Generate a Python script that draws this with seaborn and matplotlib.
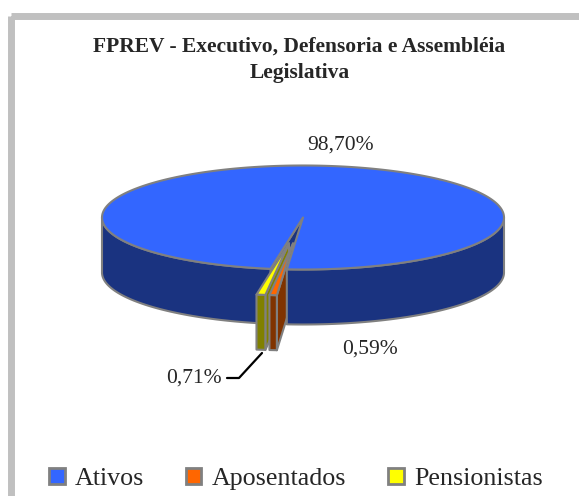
import numpy as np
import matplotlib
matplotlib.use("Agg")
import matplotlib.pyplot as plt
from matplotlib.patches import Polygon, Patch, Rectangle
import seaborn as sns

# data
categories = ["Ativos", "Aposentados", "Pensionistas"]
shares = [98.70, 0.59, 0.71]
labels = ["98,70%", "0,59%", "0,71%"]
explode = [0.0, 0.5, 0.5]
top_colors = ["#3366FF", "#FF6600", "#FFFF00"]
side_colors = ["#1A3380", "#803300", "#808000"]
title = "FPREV - Executivo, Defensoria e Assembléia\nLegislativa"

sns.set_theme(style="white")
plt.rcParams["font.family"] = ["Liberation Serif", "DejaVu Serif"]

W, H = 579, 496
fig = plt.figure(figsize=(W / 100, H / 100), dpi=100)
ax = fig.add_axes([0, 0, 1, 1])
ax.set_xlim(0, W)
ax.set_ylim(H, 0)
ax.axis("off")

# pie geometry (pixels)
cx, cy, rx, ry, depth = 303, 217.5, 201, 52, 55
start = 189.3
edge = "#808080"

frac = np.array(shares) / np.sum(shares)
ends = start + np.cumsum(frac) * 360
starts = ends - frac * 360
mids = (starts + ends) / 2


def offset(i):
    t = np.radians(mids[i])
    return explode[i] * rx * np.sin(t), -explode[i] * ry * np.cos(t)


def pt(i, th, r=1.0, z=0.0):
    ox, oy = offset(i)
    t = np.radians(th)
    return cx + ox + r * rx * np.sin(t), cy + oy - r * ry * np.cos(t) + z


def arc(i, a, b, z=0.0):
    th = np.linspace(a, b, max(int(abs(b - a) * 2), 2))
    ox, oy = offset(i)
    t = np.radians(th)
    return np.column_stack([cx + ox + rx * np.sin(t), cy + oy - ry * np.cos(t) + z])


def draw(poly, color):
    ax.add_patch(Polygon(poly, closed=True, facecolor=color, edgecolor=edge,
                         lw=1.5, joinstyle="round"))


def top(i):
    draw(np.vstack([[pt(i, 0, 0)], arc(i, starts[i], ends[i])]), top_colors[i])


def wall(i, th):
    draw(np.array([pt(i, th, 0), pt(i, th), pt(i, th, 1, depth), pt(i, th, 0, depth)]),
         side_colors[i])


def side(i, a, b):
    draw(np.vstack([arc(i, a, b), arc(i, a, b, depth)[::-1]]), side_colors[i])


def front_ranges(i):
    out = []
    for k in (-1, 0, 1):
        a, b = max(starts[i], 90 + 360 * k), min(ends[i], 270 + 360 * k)
        if b > a:
            out.append((a, b))
    return out


def visible_walls(i):
    w = []
    if np.sin(np.radians(starts[i])) < 0:
        w.append(starts[i])
    if np.sin(np.radians(ends[i])) > 0:
        w.append(ends[i])
    return w


whole = [i for i in range(len(shares)) if explode[i] == 0]
pulled = sorted([i for i in range(len(shares)) if explode[i] > 0], key=lambda i: -mids[i])
gap = np.mean([mids[i] for i in pulled]) % 360

for i in whole:
    for th in visible_walls(i):
        wall(i, th)
    for a, b in front_ranges(i):
        if ((a + b) / 2) % 360 > gap:
            side(i, a, b)

for i in pulled:
    for th in visible_walls(i):
        wall(i, th)
    for a, b in front_ranges(i):
        side(i, a, b)
    top(i)

for i in whole:
    for a, b in front_ranges(i):
        if ((a + b) / 2) % 360 < gap:
            side(i, a, b)
    top(i)

# labels
ax.text(341, 145, labels[0], ha="center", va="center", fontsize=15.5)
ax.text(370, 349, labels[1], ha="center", va="center", fontsize=15.5)
ax.text(194, 378, labels[2], ha="center", va="center", fontsize=15.5)
ax.plot([227, 239, 262], [378, 378, 353], color="black", lw=1.6)

# title
ax.text(299.5, 60, title, ha="center", va="center", fontsize=15.5,
        fontweight="bold", linespacing=1.4)

# chart frame
ax.add_patch(Rectangle((10.7, 16.3), W + 40, H + 40, fill=False,
                       edgecolor="#C0C0C0", lw=5, joinstyle="round"))

handles = [Patch(facecolor=c, edgecolor=edge, lw=2) for c in top_colors]
fig.legend(handles, categories, loc="center left", bbox_to_anchor=(49 / W, 1 - 479 / H),
           ncol=3, frameon=False, fontsize=18.7, borderpad=0, handlelength=0.6,
           handleheight=0.6, handletextpad=0.4, columnspacing=1.6, borderaxespad=0)

fig.savefig("out.png", dpi=100)
